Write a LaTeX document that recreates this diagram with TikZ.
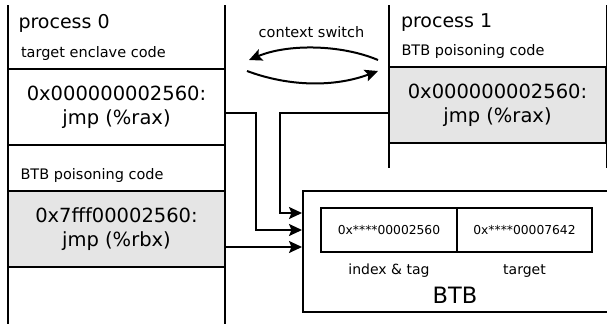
\documentclass[tikz,border=0pt]{standalone}
\usepackage{fontspec}
\setmainfont{DejaVu Sans}
\usetikzlibrary{positioning, arrows.meta, calc}

\begin{document}
\begin{tikzpicture}[
  x=1pt, y=-1pt,
  line width=2pt,
  hdr/.style={anchor=base west, inner sep=0pt, font=\fontsize{19}{23}\selectfont},
  sub/.style={anchor=base west, inner sep=0pt, font=\fontsize{14.5}{17}\selectfont},
  codebox/.style={draw, line width=2pt, align=center, minimum width=217pt,
    minimum height=76pt, inner sep=0pt, font=\fontsize{19.5}{24}\selectfont},
  poison/.style={codebox, fill=black!10},
  cell/.style={draw, minimum height=44pt, inner sep=0pt, outer sep=0pt,
    font=\fontsize{12.3}{14}\selectfont},
  lbl/.style={anchor=base, inner sep=0pt, font=\fontsize{14}{17}\selectfont},
  conn/.style={-{Stealth[length=13pt, width=12pt, inset=2.5pt]}, line width=1.8pt},
  ctxarrow/.style={-{Stealth[length=13pt, width=12pt, inset=2.5pt]}, line width=2pt},
]
  \useasboundingbox (0,0) rectangle (607,324);
  \clip (0,0) rectangle (607,324);

  % process columns
  \draw (8,5) -- (8,324) (225,5) -- (225,324);
  \draw (389,5) -- (389,168) (607,5) -- (607,168);

  \node[hdr] (p0) at (17.5,28) {process 0};
  \node[sub] (p0sub) at (20,57) {target enclave code};
  \node[codebox] (rax0) at (116.5,107) {0x000000002560:\\jmp (\%rax)};
  \node[sub] (p0poison) at (19.5,179) {BTB poisoning code};
  \node[poison] (rbx0) at (116.5,229) {0x7fff00002560:\\jmp (\%rbx)};

  \node[hdr] (p1) at (400,27.5) {process 1};
  \node[sub] (p1sub) at (400.5,55) {BTB poisoning code};
  \node[poison] (rax1) at (497.5,105) {0x000000002560:\\jmp (\%rax)};

  % BTB
  \node[draw, minimum width=310pt, minimum height=121pt] (btb) at (458,251.5) {};
  \node[cell, minimum width=136pt] (idx) at (389,230) {0x****00002560};
  \node[cell, minimum width=135pt, anchor=west] (tgt) at (idx.east) {0x****00007642};
  \node[lbl] (idxlbl) at (idx.center |- 0,274) {index \& tag};
  \node[lbl] (tgtlbl) at (tgt.center |- 0,274) {target};
  \node[anchor=base, inner sep=0pt, font=\fontsize{22.5}{26}\selectfont] (btblbl)
    at (455,303) {BTB};

  \draw[conn] ($(rax0.east)+(0,6)$) -- ++(30,0) |- (btb.west |- idx);
  \draw[conn] ($(rax1.west)+(0,8)$) -- ++(-108,0) |- ($(btb.west |- idx)+(0,-17)$);
  \draw[conn] ($(rbx0.east)+(0,18)$) -- ($(btb.west |- idx)+(0,17)$);

  % context switch
  \node[lbl, font=\fontsize{14.5}{17}\selectfont] (ctx) at (311.5,37.5) {context switch};
  \coordinate (sw1) at (378,60);
  \coordinate (sw0) at (249,60);
  \coordinate (sw0b) at (247,71);
  \coordinate (sw1b) at (378,71);
  \draw[ctxarrow] (sw1) .. controls (340,44) and (287,44) .. (sw0);
  \draw[ctxarrow] (sw0b) .. controls (290,87) and (335,87) .. (sw1b);
\end{tikzpicture}
\end{document}
